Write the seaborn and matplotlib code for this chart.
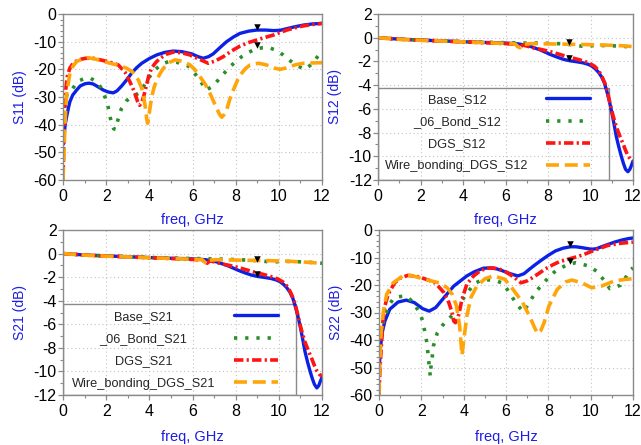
import numpy as np
import pandas as pd
import matplotlib
matplotlib.use("Agg")
import matplotlib.pyplot as plt
from matplotlib.patches import Rectangle
from matplotlib.lines import Line2D
import seaborn as sns

# ---------------- S11 ----------------
s11_base_f = [0.02, 0.05, 0.1, 0.17, 0.25, 0.32, 0.45, 0.63, 0.8, 1.02, 1.2, 1.4, 1.6, 1.87, 2.1, 2.33, 2.5, 2.72, 2.95, 3.18, 3.4, 3.65, 4.0, 4.34, 4.7, 5.1, 5.5, 5.96, 6.25, 6.5, 6.75, 6.96, 7.25, 7.58, 7.9, 8.2, 8.6, 8.98, 9.4, 9.75, 10.05, 10.37, 10.75, 11.14, 11.55, 12.0]
s11_base = [-47, -44, -40, -37, -34, -31.7, -29.3, -27.5, -26, -25.2, -25, -25.3, -26.2, -27.5, -28.2, -28.5, -27.8, -26, -23.8, -21.4, -19.5, -17.8, -16.1, -14.8, -13.9, -13.4, -13.6, -14.4, -15.4, -16, -15.4, -14.4, -12.3, -10, -8.3, -7, -6.2, -5.8, -5.8, -6, -5.9, -5.3, -4.6, -4, -3.6, -3.4]
s11_dgs_f = [0.0, 0.04, 0.08, 0.13, 0.2, 0.32, 0.5, 0.75, 1.05, 1.4, 1.8, 2.2, 2.56, 2.87, 3.1, 3.3, 3.45, 3.55, 3.65, 3.75, 3.85, 3.97, 4.1, 4.3, 4.5, 4.8, 5.1, 5.5, 5.88, 6.3, 6.73, 7.05, 7.43, 7.8, 8.2, 8.6, 8.98, 9.35, 9.75, 10.05, 10.37, 10.75, 11.14, 11.55, 12.0]
s11_dgs = [-60, -45, -33, -27, -22.5, -19.5, -17.5, -16.5, -16, -16, -16.7, -17.5, -18.4, -21, -24.5, -28, -31.5, -33, -32, -29.5, -26.3, -22.5, -19.6, -17.5, -16, -14.5, -13.8, -14, -14.8, -16.3, -17.8, -17, -15.4, -13.4, -11.6, -10.3, -9.4, -8.5, -7.6, -6.7, -5.8, -5, -4.3, -3.8, -3.4]
s11_wire_f = [0.0, 0.05, 0.09, 0.17, 0.32, 0.45, 0.63, 0.9, 1.17, 1.5, 1.85, 2.18, 2.6, 2.95, 3.2, 3.34, 3.5, 3.65, 3.75, 3.82, 3.88, 3.92, 3.97, 4.04, 4.11, 4.22, 4.34, 4.5, 4.65, 4.9, 5.19, 5.5, 5.88, 6.1, 6.35, 6.6, 6.81, 7.0, 7.12, 7.25, 7.35, 7.45, 7.58, 7.72, 7.89, 8.08, 8.28, 8.47, 8.67, 9.05, 9.32, 9.59, 9.82, 10.05, 10.3, 10.52, 10.8, 11.14, 11.5, 12.0]
s11_wire = [-60, -50, -40, -28.7, -21.4, -19, -17.2, -16.2, -15.8, -16.3, -17.1, -17.8, -18.6, -19.6, -20.8, -22, -24, -26.9, -30.5, -34, -38, -39.5, -37.5, -33.5, -30, -26.5, -23.9, -21.5, -19.6, -17.6, -16.6, -17, -18.4, -20, -22.7, -25.5, -28.7, -32, -34.1, -36.2, -37.3, -36.5, -34.7, -31, -27.5, -24, -21.4, -19.6, -18.4, -17.8, -18.2, -18.8, -19.6, -20, -19.6, -19, -18.3, -17.8, -17.7, -17.6]
s11_bond_f = [0.05, 0.1, 0.2, 0.45, 0.71, 1.0, 1.28, 1.59, 1.75, 1.91, 2.05, 2.18, 2.26, 2.35, 2.44, 2.53, 2.62, 2.72, 2.95, 3.2, 3.49, 3.72, 4.0, 4.3, 4.6, 4.9, 5.3, 5.8, 6.04, 6.25, 6.43, 6.63, 6.85, 7.09, 7.35, 7.77, 8.05, 8.3, 8.59, 8.94, 9.25, 9.56, 9.93, 10.2, 10.44, 10.8, 11.21, 11.55, 11.91, 12.0]
s11_bond = [-38, -32, -28.5, -26.9, -24.2, -23.3, -23.2, -24.8, -26.5, -29.3, -32, -37.1, -40.1, -41.5, -41.7, -38.7, -36, -34, -31.3, -30, -28.7, -26.3, -22.8, -19.9, -18, -17.2, -17.5, -18.8, -20.8, -23, -25, -27.5, -26.5, -24.8, -22.4, -18.8, -16.9, -15.3, -13.9, -12.6, -12.2, -12.2, -13.3, -14.8, -16.4, -18.5, -20, -18, -14.2, -13.8]
s11_marker_f = [9.0, 9.0]
s11_marker = [-4.8, -11.2]

# ---------------- S12 ----------------
s12_base_f = [0, 0.5, 1, 2, 3, 4, 5, 5.65, 6.2, 6.6, 7.0, 7.2, 7.66, 8.12, 8.45, 8.74, 9.05, 9.36, 9.65, 9.9, 10.05, 10.21, 10.37, 10.52, 10.65, 10.75, 10.87, 10.98, 11.1, 11.21, 11.33, 11.45, 11.55, 11.65, 11.76, 11.85, 11.91, 12.0]
s12_base = [0, -0.06, -0.12, -0.2, -0.27, -0.34, -0.4, -0.43, -0.47, -0.52, -0.65, -0.75, -1.05, -1.42, -1.65, -1.83, -1.95, -2.03, -2.12, -2.25, -2.38, -2.6, -2.9, -3.3, -3.8, -4.4, -5.2, -6.1, -7.2, -8.3, -9.2, -10.0, -10.6, -11.1, -11.3, -11.1, -10.85, -10.4]
s12_dgs_f = [0, 0.5, 1, 2, 3, 4, 5, 6, 6.45, 6.6, 6.68, 6.8, 7.0, 7.35, 7.7, 8.12, 8.5, 8.9, 9.2, 9.51, 9.8, 9.98, 10.2, 10.37, 10.52, 10.68, 10.8, 10.9, 11.05, 11.21, 11.37, 11.52, 11.65, 11.76, 11.88, 12.0]
s12_dgs = [0, -0.07, -0.13, -0.21, -0.28, -0.35, -0.42, -0.5, -0.55, -0.75, -0.82, -0.62, -0.7, -0.88, -1.0, -1.18, -1.38, -1.6, -1.73, -1.88, -2.05, -2.18, -2.42, -2.75, -3.2, -3.85, -4.6, -5.4, -6.5, -7.5, -8.25, -8.9, -9.5, -9.95, -10.25, -10.35]
s12_wire_f = [0, 0.5, 1, 2, 3, 4, 5, 6, 6.45, 6.6, 6.68, 6.8, 7.2, 8.0, 8.74, 9.5, 10.29, 11.0, 11.5, 12.0]
s12_wire = [0, -0.07, -0.13, -0.22, -0.28, -0.35, -0.42, -0.48, -0.52, -0.78, -0.85, -0.55, -0.5, -0.52, -0.54, -0.57, -0.6, -0.64, -0.68, -0.75]
s12_bond_f = [0, 0.5, 1, 2, 3, 4, 5, 6, 6.8, 7.5, 8.5, 9.2, 9.6, 10.3, 11.0, 11.5, 12.0]
s12_bond = [0, -0.06, -0.12, -0.2, -0.27, -0.33, -0.38, -0.42, -0.45, -0.45, -0.5, -0.6, -0.72, -0.65, -0.68, -0.72, -0.8]
s12_marker_f = [9.0, 9.0]
s12_marker = [-0.33, -1.68]

# ---------------- S21 ----------------
s21_base_f = [0, 0.5, 1, 2, 3, 4, 5, 5.65, 6.2, 6.6, 7.0, 7.2, 7.66, 8.12, 8.45, 8.74, 9.05, 9.36, 9.65, 9.9, 10.05, 10.21, 10.37, 10.52, 10.65, 10.75, 10.87, 10.98, 11.1, 11.21, 11.33, 11.45, 11.55, 11.65, 11.76, 11.85, 11.91, 12.0]
s21_base = [0, -0.06, -0.12, -0.2, -0.27, -0.34, -0.4, -0.43, -0.47, -0.52, -0.65, -0.75, -1.05, -1.42, -1.65, -1.83, -1.95, -2.03, -2.12, -2.25, -2.38, -2.6, -2.9, -3.3, -3.8, -4.4, -5.2, -6.1, -7.2, -8.3, -9.2, -10.0, -10.6, -11.1, -11.4, -11.2, -10.9, -10.5]
s21_dgs_f = [0, 0.5, 1, 2, 3, 4, 5, 6, 6.45, 6.6, 6.68, 6.8, 7.0, 7.35, 7.7, 8.12, 8.5, 8.9, 9.2, 9.51, 9.8, 9.98, 10.2, 10.37, 10.52, 10.68, 10.8, 10.9, 11.05, 11.21, 11.37, 11.52, 11.65, 11.76, 11.88, 12.0]
s21_dgs = [0, -0.07, -0.13, -0.21, -0.28, -0.35, -0.42, -0.5, -0.55, -0.75, -0.82, -0.62, -0.7, -0.88, -1.0, -1.18, -1.38, -1.6, -1.73, -1.88, -2.05, -2.18, -2.42, -2.75, -3.2, -3.85, -4.6, -5.4, -6.5, -7.5, -8.25, -8.9, -9.5, -9.95, -10.25, -10.4]
s21_wire_f = [0, 0.5, 1, 2, 3, 4, 5, 6, 6.45, 6.6, 6.68, 6.8, 7.2, 8.0, 8.74, 9.5, 10.29, 11.0, 11.5, 12.0]
s21_wire = [0, -0.07, -0.13, -0.22, -0.28, -0.35, -0.42, -0.48, -0.52, -0.78, -0.85, -0.55, -0.52, -0.55, -0.58, -0.6, -0.64, -0.7, -0.76, -0.83]
s21_bond_f = [0, 0.5, 1, 2, 3, 4, 5, 6, 6.8, 7.5, 8.5, 9.2, 9.6, 10.3, 11.0, 11.5, 12.0]
s21_bond = [0, -0.06, -0.12, -0.2, -0.27, -0.33, -0.38, -0.42, -0.45, -0.48, -0.55, -0.62, -0.72, -0.66, -0.7, -0.75, -0.82]
s21_marker_f = [9.0, 9.0]
s21_marker = [-0.42, -1.7]

# ---------------- S22 ----------------
s22_base_f = [0.02, 0.05, 0.15, 0.28, 0.51, 0.9, 1.29, 1.67, 2.06, 2.37, 2.68, 3.07, 3.53, 4.15, 4.5, 4.93, 5.25, 5.55, 5.86, 6.2, 6.56, 6.85, 7.1, 7.4, 7.72, 8.0, 8.34, 8.7, 9.04, 9.3, 9.58, 9.8, 10.05, 10.27, 10.51, 10.8, 11.13, 11.5, 11.8, 12.0]
s22_base = [-50, -44, -37.3, -33.1, -28.8, -26.2, -25.5, -26.4, -28.6, -29.5, -28.2, -24.6, -20.4, -16.7, -15.2, -13.9, -13.8, -14.1, -14.9, -15.9, -16.7, -15.9, -14.3, -12.5, -10.7, -9.2, -7.6, -6.6, -6.1, -6.1, -6.4, -6.7, -7.0, -6.8, -6.1, -5.3, -4.4, -3.6, -3.1, -2.9]
s22_dgs_f = [0.0, 0.05, 0.12, 0.2, 0.28, 0.43, 0.74, 1.0, 1.36, 1.75, 2.14, 2.4, 2.68, 3.07, 3.3, 3.45, 3.53, 3.61, 3.69, 3.77, 3.92, 4.15, 4.47, 4.75, 5.08, 5.4, 5.71, 6.01, 6.35, 6.71, 7.0, 7.26, 7.55, 7.87, 8.2, 8.5, 9.04, 9.58, 10.2, 10.82, 11.44, 12.0]
s22_dgs = [-60, -50, -41, -32, -27.6, -23.4, -19.2, -17.5, -16.5, -16.8, -17.7, -18.4, -19.4, -22.8, -26.4, -30, -33.1, -33.7, -32.5, -30.7, -25.2, -19.7, -16.7, -15, -13.9, -13.8, -14.3, -15.3, -17, -19.2, -18.5, -17.3, -15.8, -14.1, -12.7, -11.6, -10.4, -9.2, -7.3, -5.6, -4.8, -4.4]
s22_wire_f = [0.0, 0.04, 0.09, 0.2, 0.36, 0.67, 1.13, 1.52, 2.14, 2.84, 3.22, 3.46, 3.66, 3.81, 3.92, 4.03, 4.15, 4.34, 4.62, 5.01, 5.4, 5.94, 6.33, 6.79, 7.18, 7.35, 7.49, 7.65, 7.8, 8.03, 8.42, 8.81, 9.12, 9.58, 10.05, 10.51, 11.13, 11.6, 12.0]
s22_wire = [-60, -48, -38.5, -30, -23.4, -19.2, -16.7, -16.5, -17.9, -19.2, -21, -23.4, -27.6, -34.9, -45.5, -38.5, -31.3, -24.6, -20.4, -17.7, -16.7, -17.9, -21.6, -26.4, -32.5, -35.5, -37.6, -36.5, -33.7, -27.6, -21.6, -18.9, -18.2, -19.2, -21, -20.4, -18.5, -18, -17.7]
s22_bond_f = [0.05, 0.25, 0.47, 0.71, 1.0, 1.29, 1.6, 1.94, 2.06, 2.19, 2.26, 2.33, 2.37, 2.42, 2.45, 2.53, 2.57, 2.76, 3.0, 3.46, 3.66, 4.12, 4.5, 4.93, 5.55, 5.86, 6.25, 6.45, 6.82, 7.02, 7.38, 7.64, 8.08, 8.37, 8.93, 9.3, 9.92, 10.28, 10.7, 10.9, 11.41, 11.91, 12.0]
s22_bond = [-38, -32.2, -27.4, -24.6, -24.2, -24, -26.2, -30.3, -33.1, -37.9, -41, -46.1, -49.2, -53.1, -50.1, -45.2, -42.2, -37.3, -34.7, -31, -28.6, -23.4, -19.5, -17.9, -18.5, -19.4, -23.8, -26.4, -29.8, -27.4, -22.8, -20.4, -16.7, -14.7, -12.5, -11.9, -13.1, -15, -18.9, -21.3, -20.1, -14.3, -13.8]
s22_marker_f = [9.0, 9.0]
s22_marker = [-5.2, -11.3]

s12_labels = ["Base_S12", "_06_Bond_S12", "DGS_S12", "Wire_bonding_DGS_S12"]
s21_labels = ["Base_S21", "_06_Bond_S21", "DGS_S21", "Wire_bonding_DGS_S21"]

x_ticks = [0, 2, 4, 6, 8, 10, 12]
refl_ticks = [0, -10, -20, -30, -40, -50, -60]
trans_ticks = [2, 0, -2, -4, -6, -8, -10, -12]

# ---------------- styling ----------------
sns.set_theme(style="white")
plt.rcParams['font.family'] = ['Liberation Sans', 'DejaVu Sans']
plt.rcParams['axes.unicode_minus'] = False

LABEL_BLUE = "#1c1ce8"
SPINE = "#8a8a8a"
STY = {
    "base": dict(color="#0b22e6", linewidth=2.4, linestyle="-"),
    "bond": dict(color="#2a8f2a", linewidth=2.6, linestyle=(0, (0.9, 2.2))),
    "dgs": dict(color="#ff1414", linewidth=2.6, linestyle=(0, (2.6, 0.9, 0.6, 0.9))),
    "wire": dict(color="#ffa50a", linewidth=2.6, linestyle=(0, (3.6, 1.6))),
}

fig = plt.figure(figsize=(6.41, 4.45), dpi=100)
W, H = 641.0, 445.0
ax1 = fig.add_axes([63 / W, 1 - 180 / H, 259 / W, 166 / H])
ax2 = fig.add_axes([378 / W, 1 - 180 / H, 255 / W, 166 / H])
ax3 = fig.add_axes([63 / W, 1 - 395 / H, 259 / W, 165 / H])
ax4 = fig.add_axes([379 / W, 1 - 395 / H, 254 / W, 165 / H])


def draw_panel(ax, series, mk_f, mk_v, ylim, yticks, yminor, ylabel, xlab_y):
    handles = []
    for f, v, key in series:
        n0 = len(ax.lines)
        sns.lineplot(x=f, y=v, ax=ax, errorbar=None, sort=False, **STY[key])
        handles.append(ax.lines[n0])
    sns.scatterplot(x=mk_f, y=mk_v, ax=ax, marker="v", color="black", s=22,
                    linewidth=0, zorder=6, legend=False)
    ax.set_xlim(0, 12)
    ax.set_ylim(*ylim)
    ax.set_xticks(x_ticks)
    ax.set_xticks(np.arange(1, 12, 2), minor=True)
    ax.set_yticks(yticks)
    ax.set_yticks(np.arange(ylim[0], ylim[1] + 0.01, yminor), minor=True)
    ax.grid(True, which="major", color="#c4c4c4", linestyle=(0, (1, 2.5)), linewidth=0.8)
    ax.set_axisbelow(True)
    for s in ax.spines.values():
        s.set_color(SPINE)
        s.set_linewidth(1.0)
    ax.tick_params(axis="both", which="both", direction="out", color=SPINE,
                   bottom=True, left=True, top=False, right=False,
                   labelsize=11.5, labelcolor="black")
    ax.tick_params(axis="both", which="major", length=3.5, width=0.9)
    ax.tick_params(axis="both", which="minor", length=2.5, width=0.8)
    ax.tick_params(axis="y", pad=1)
    ax.tick_params(axis="x", pad=3)
    ax.set_ylabel(ylabel, color=LABEL_BLUE, fontsize=10)
    ax.yaxis.set_label_coords(-0.14, 0.5)
    ax.set_xlabel("freq, GHz", color=LABEL_BLUE, fontsize=10.5)
    ax.xaxis.set_label_coords(0.5, xlab_y)
    return handles


def add_legend(ax, handles, labels, ylim, box_right, box_top, row_center):
    ymin, ymax = ylim
    rect = Rectangle((0, 0), box_right / 12.0, (box_top - ymin) / (ymax - ymin),
                     transform=ax.transAxes, fill=False, edgecolor=SPINE,
                     linewidth=1.0, zorder=1.5)
    ax.add_patch(rect)
    yc = (row_center - ymin) / (ymax - ymin)
    blank = [Line2D([], [], linestyle="none") for _ in labels]
    safe = [("x" + l) if l.startswith("_") else l for l in labels]
    legA = ax.legend(blank, safe, loc="center", bbox_to_anchor=(3.72 / 12.0, yc),
                     handlelength=0, handletextpad=0, frameon=False, fontsize=9.2,
                     labelspacing=0.8, borderpad=0, borderaxespad=0)
    for t, l in zip(legA.get_texts(), labels):
        t.set_text(l)
    try:
        for col in legA._legend_handle_box.get_children():
            col.align = "center"
    except Exception:
        pass
    ax.add_artist(legA)
    ax.legend(handles, [" "] * len(labels), loc="center",
              bbox_to_anchor=(9.02 / 12.0, yc), handlelength=3.5,
              handletextpad=0, frameon=False, fontsize=9.2,
              labelspacing=0.8, borderpad=0, borderaxespad=0)


draw_panel(ax1, [(s11_base_f, s11_base, "base"), (s11_bond_f, s11_bond, "bond"),
                 (s11_dgs_f, s11_dgs, "dgs"), (s11_wire_f, s11_wire, "wire")],
           s11_marker_f, s11_marker, (-60, 0), refl_ticks, 2, "S11 (dB)", -0.2)

h2 = draw_panel(ax2, [(s12_base_f, s12_base, "base"), (s12_bond_f, s12_bond, "bond"),
                      (s12_dgs_f, s12_dgs, "dgs"), (s12_wire_f, s12_wire, "wire")],
                s12_marker_f, s12_marker, (-12, 2), trans_ticks, 1, "S12 (dB)", -0.2)
add_legend(ax2, h2, s12_labels, (-12, 2), 10.87, -4.2, -8.05)

h3 = draw_panel(ax3, [(s21_base_f, s21_base, "base"), (s21_bond_f, s21_bond, "bond"),
                      (s21_dgs_f, s21_dgs, "dgs"), (s21_wire_f, s21_wire, "wire")],
                s21_marker_f, s21_marker, (-12, 2), trans_ticks, 1, "S21 (dB)", -0.21)
add_legend(ax3, h3, s21_labels, (-12, 2), 10.8, -4.25, -8.2)

draw_panel(ax4, [(s22_base_f, s22_base, "base"), (s22_bond_f, s22_bond, "bond"),
                 (s22_dgs_f, s22_dgs, "dgs"), (s22_wire_f, s22_wire, "wire")],
           s22_marker_f, s22_marker, (-60, 0), refl_ticks, 2, "S22 (dB)", -0.21)

fig.savefig("out.png", dpi=100)
